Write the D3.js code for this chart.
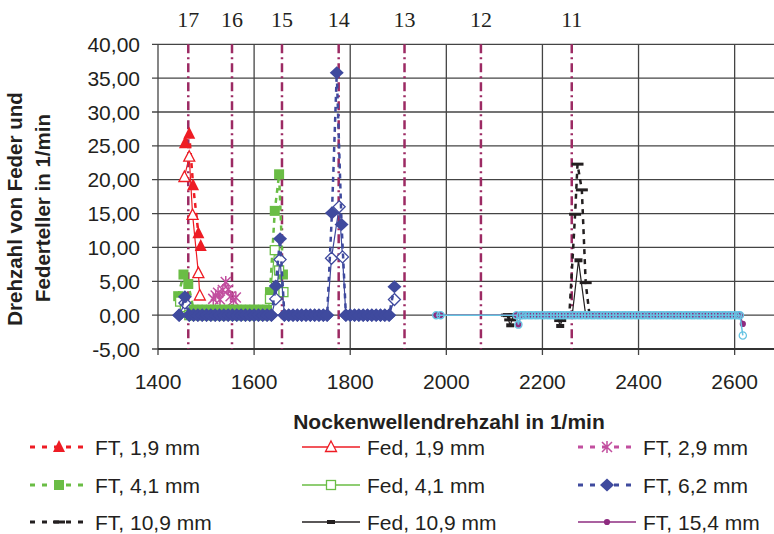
<!DOCTYPE html>
<html>
<head>
<meta charset="utf-8">
<script src="https://cdn.jsdelivr.net/npm/d3@7"></script>
<style>
  body { margin: 0; background: #fff; }
  text { fill: #231f20; }
</style>
</head>
<body>
<div id="chart"></div>
<script>

// order lines (Ordnung) and their cam shaft speed
var orders = [17, 16, 15, 14, 13, 12, 11];
var orderRpm = [1463, 1554, 1658, 1776, 1913, 2072, 2261];

var xTicks = [1400, 1600, 1800, 2000, 2200, 2400, 2600];
var yTicks = [-5, 0, 5, 10, 15, 20, 25, 30, 35, 40];

// speed steps where the curves sit on zero
var runA = [1474, 1483, 1492, 1501, 1510, 1519, 1528, 1537, 1546, 1555, 1564, 1573, 1582, 1591, 1600, 1609, 1618, 1627];
var runB = [1672, 1681, 1690, 1699, 1708, 1717, 1726, 1735, 1744, 1752];
var runC = [1800, 1809, 1818, 1827, 1836, 1845, 1854, 1863, 1872, 1881];
var runD = [2159, 2165, 2172, 2178, 2185, 2191, 2198, 2204, 2211, 2217, 2224, 2230, 2237, 2243, 2250, 2256,
            2263, 2269, 2276, 2282, 2289, 2295, 2302, 2308, 2315, 2321, 2328, 2334, 2341, 2347, 2354, 2360,
            2367, 2373, 2380, 2386, 2393, 2399, 2406, 2412, 2419, 2425, 2432, 2438, 2445, 2451, 2458, 2464,
            2471, 2477, 2484, 2490, 2497, 2503, 2510, 2516, 2523, 2529, 2536, 2542, 2549, 2555, 2562, 2568,
            2575, 2581, 2588, 2594, 2601, 2607, 2611];

function zeros(run, v) { return run.map(function(r) { return [r, v]; }); }

// series: [rpm, Drehzahl]
var ft19  = [[1456, 25.4], [1465, 26.8], [1473, 19.2], [1484, 12.1], [1489, 10.2]];
var fed19 = [[1455, 20.4], [1465, 23.4], [1472, 14.8], [1484, 6.2], [1487, 2.9]];
var ft29  = [[1515, 2.4], [1520, 2.9], [1525, 3.3], [1529, 2.3], [1535, 3.7], [1541, 4.9],
             [1546, 3.8], [1551, 2.8], [1557, 2.2], [1562, 2.6]];
var ft41  = [[1442, 2.8], [1453, 6.0], [1463, 4.6]]
  .concat(zeros(runA, 0.8))
  .concat([[1633, 3.4], [1643, 15.4], [1652, 20.8], [1660, 6.0]]);
var fed41 = [[1446, 2.0], [1456, 1.2], [1465, 0]]
  .concat(zeros(runA, 0))
  .concat([[1633, 2.4], [1643, 9.6], [1652, 6.6], [1661, 3.4]]);
var ft62  = [[1444, 0], [1456, 2.7], [1465, 0]]
  .concat(zeros(runA, 0))
  .concat([[1636, 0], [1645, 4.3], [1654, 11.3], [1663, 0]])
  .concat(zeros(runB, 0))
  .concat([[1762, 15.1], [1772, 35.8], [1782, 13.4], [1791, 0]])
  .concat(zeros(runC, 0))
  .concat([[1892, 4.2]]);
var fed62 = [[1444, 0], [1456, 1.8], [1465, 0]]
  .concat(zeros(runA, 0))
  .concat([[1636, 0], [1645, 2.4], [1654, 8.2], [1663, 0]])
  .concat(zeros(runB, 0))
  .concat([[1761, 8.4], [1777, 16.0], [1784, 8.6], [1791, 0]])
  .concat(zeros(runC, 0))
  .concat([[1892, 2.3]]);
var ft109 = [[2126, 0], [2133, -0.7], [2140, 0], [2230, 0], [2237, -0.8], [2244, 0],
             [2256, 0], [2268, 14.9], [2273, 22.3], [2282, 18.5], [2290, 4.8], [2298, 0]];
var fed109 = [[2126, 0], [2133, -1.5], [2140, 0], [2230, 0], [2237, -1.6], [2244, 0],
              [2262, 0], [2275, 8.1], [2290, 0]];
var ft154 = [[1979, 0], [1988, 0], [2146, 0], [2150, -1.4], [2155, 0]]
  .concat(zeros(runD, 0))
  .concat([[2617, -1.3]]);
var fed154 = [[1979, 0], [1988, 0], [2146, 0], [2150, -1.4], [2155, 0]]
  .concat(zeros(runD, 0))
  .concat([[2617, -3.0]]);

var width = 774, height = 534;
var svg = d3.select('#chart').append('svg')
    .attr('width', width)
    .attr('height', height)
    .style('font-family', '"Liberation Sans", Arial, sans-serif');

var x = d3.scaleLinear().domain([1400, 2700]).range([158, 782.7]);
var y = d3.scaleLinear().domain([-5, 40]).range([349, 44.3]);

// grid
svg.append('g').selectAll('line').data(yTicks).enter().append('line')
    .attr('x1', 152).attr('x2', width)
    .attr('y1', function(d) { return y(d); }).attr('y2', function(d) { return y(d); })
    .attr('stroke', '#444').attr('stroke-width', 1.3);
svg.append('g').selectAll('line').data(xTicks).enter().append('line')
    .attr('x1', function(d) { return x(d); }).attr('x2', function(d) { return x(d); })
    .attr('y1', y(40)).attr('y2', y(-5) + 6)
    .attr('stroke', '#444').attr('stroke-width', 1.3);
// bottom axis
svg.append('line').attr('x1', x(1400)).attr('x2', width)
    .attr('y1', y(-5)).attr('y2', y(-5)).attr('stroke', '#333').attr('stroke-width', 2);

// tick labels (German decimal comma, plain hyphen)
svg.append('g').selectAll('text').data(yTicks).enter().append('text')
    .attr('x', 140).attr('y', function(d) { return y(d); }).attr('dy', '0.36em')
    .attr('text-anchor', 'end').attr('font-size', 21)
    .text(function(d) { return d.toFixed(2).replace('.', ','); });
svg.append('g').selectAll('text').data(xTicks).enter().append('text')
    .attr('x', function(d) { return x(d); }).attr('y', 389)
    .attr('text-anchor', 'middle').attr('font-size', 21)
    .text(function(d) { return d; });

// axis titles
svg.append('text').attr('x', 449).attr('y', 429).attr('text-anchor', 'middle')
    .attr('font-size', 21).attr('font-weight', 'bold')
    .text('Nockenwellendrehzahl in 1/min');
svg.append('text').attr('transform', 'translate(22,209) rotate(-90)').attr('text-anchor', 'middle')
    .attr('font-size', 20.5).attr('font-weight', 'bold')
    .text('Drehzahl von Feder und');
svg.append('text').attr('transform', 'translate(50,208) rotate(-90)').attr('text-anchor', 'middle')
    .attr('font-size', 20.5).attr('font-weight', 'bold')
    .text('Federteller in 1/min');

// order lines
var orderColor = '#9c2a63';
svg.append('g').selectAll('line').data(orderRpm).enter().append('line')
    .attr('x1', function(d) { return x(d); }).attr('x2', function(d) { return x(d); })
    .attr('y1', y(40)).attr('y2', y(-5))
    .attr('stroke', orderColor).attr('stroke-width', 2.5)
    .attr('stroke-dasharray', '9,4,2,4');
svg.append('g').selectAll('text').data(orders).enter().append('text')
    .attr('x', function(d, i) { return x(orderRpm[i]); }).attr('y', 27)
    .attr('text-anchor', 'middle').attr('font-size', 22)
    .style('font-family', '"Liberation Serif", "Times New Roman", serif')
    .text(function(d) { return d; });

// markers
function marker(g, type, c) {
  if (type == 'tri') g.append('path').attr('d', 'M0,-7L6,5L-6,5Z').attr('fill', c);
  if (type == 'triOpen') g.append('path').attr('d', 'M0,-6L5.5,4.5L-5.5,4.5Z').attr('fill', '#fff').attr('stroke', c).attr('stroke-width', 1.3);
  if (type == 'star') g.append('path').attr('d', 'M-5,-5L5,5M-5,5L5,-5M0,-6L0,6').attr('stroke', c).attr('stroke-width', 1.5);
  if (type == 'sq') g.append('rect').attr('x', -5).attr('y', -5).attr('width', 10).attr('height', 10).attr('fill', c);
  if (type == 'sqOpen') g.append('rect').attr('x', -4.5).attr('y', -4.5).attr('width', 9).attr('height', 9).attr('fill', '#fff').attr('stroke', c).attr('stroke-width', 1.3);
  if (type == 'dia') g.append('path').attr('d', 'M0,-6.5L7,0L0,6.5L-7,0Z').attr('fill', c);
  if (type == 'diaOpen') g.append('path').attr('d', 'M0,-6L6,0L0,6L-6,0Z').attr('fill', '#fff').attr('stroke', c).attr('stroke-width', 1.3);
  if (type == 'dash') g.append('rect').attr('x', -6).attr('y', -1.5).attr('width', 12).attr('height', 3).attr('fill', c);
  if (type == 'bar') g.append('rect').attr('x', -4).attr('y', -2).attr('width', 8).attr('height', 4).attr('fill', c);
  if (type == 'dot') g.append('circle').attr('r', 3.1).attr('fill', c);
  if (type == 'ring') g.append('circle').attr('r', 3.6).attr('fill', 'none').attr('stroke', c).attr('stroke-width', 1.3);
}

var red = '#ee1c24', pink = '#c24f9f', green = '#6abd45', blue = '#3f4a9e',
    black = '#231f20', purple = '#8e2c80', cyan = '#66c3e2';

// drawing order: later series lie on top
var series = [
  {data: ft19,   name: 'FT, 1,9 mm',   color: red,    dash: '5,5', w: 2.5, mk: 'tri'},
  {data: fed19,  name: 'Fed, 1,9 mm',  color: red,    dash: null,  w: 1.2, mk: 'triOpen'},
  {data: ft29,   name: 'FT, 2,9 mm',   color: pink,   dash: '5,5', w: 2.5, mk: 'star'},
  {data: ft41,   name: 'FT, 4,1 mm',   color: green,  dash: '5,5', w: 2.5, mk: 'sq'},
  {data: fed41,  name: 'Fed, 4,1 mm',  color: green,  dash: null,  w: 1.2, mk: 'sqOpen'},
  {data: fed62,  name: 'Fed, 6,2 mm',  color: blue,   dash: null,  w: 1.2, mk: 'diaOpen'},
  {data: ft62,   name: 'FT, 6,2 mm',   color: blue,   dash: '5,5', w: 2.5, mk: 'dia'},
  {data: ft109,  name: 'FT, 10,9 mm',  color: black,  dash: '5,5', w: 2.5, mk: 'dash'},
  {data: fed109, name: 'Fed, 10,9 mm', color: black,  dash: null,  w: 1.2, mk: 'bar'},
  {data: ft154,  name: 'FT, 15,4 mm',  color: purple, dash: null,  w: 1.5, mk: 'dot'},
  {data: fed154, name: 'Fed, 15,4 mm', color: cyan,   dash: null,  w: 1.5, mk: 'ring'}
];

var line = d3.line().x(function(d) { return x(d[0]); }).y(function(d) { return y(d[1]); });

series.forEach(function(s) {
  var g = svg.append('g');
  g.append('path').datum(s.data).attr('d', line)
      .attr('fill', 'none').attr('stroke', s.color).attr('stroke-width', s.w)
      .attr('stroke-dasharray', s.dash);
  g.selectAll('g').data(s.data).enter().append('g')
      .attr('transform', function(d) { return 'translate(' + x(d[0]) + ',' + y(d[1]) + ')'; })
      .each(function() { marker(d3.select(this), s.mk, s.color); });
});

// legend (3 columns), the last entries are cut off in the original
var legendNames = ['FT, 1,9 mm', 'Fed, 1,9 mm', 'FT, 2,9 mm',
                   'FT, 4,1 mm', 'Fed, 4,1 mm', 'FT, 6,2 mm',
                   'FT, 10,9 mm', 'Fed, 10,9 mm', 'FT, 15,4 mm'];
var colX = [30, 302, 578], rowY = [447, 485, 522];
legendNames.forEach(function(name, i) {
  var s = series.filter(function(d) { return d.name == name; })[0];
  var cx = colX[i % 3], cy = rowY[Math.floor(i / 3)];
  var g = svg.append('g').attr('transform', 'translate(' + cx + ',' + cy + ')');
  g.append('line').attr('x1', 0).attr('x2', 58).attr('y1', 0).attr('y2', 0)
      .attr('stroke', s.color).attr('stroke-width', s.dash ? 3 : 1.3)
      .attr('stroke-dasharray', s.dash ? '5,7' : null);
  marker(g.append('g').attr('transform', 'translate(29,0)'), s.mk, s.color);
  g.append('text').attr('x', 65).attr('y', 0).attr('dy', '0.36em')
      .attr('font-size', 21).text(s.name);
});

</script>
</body>
</html>
